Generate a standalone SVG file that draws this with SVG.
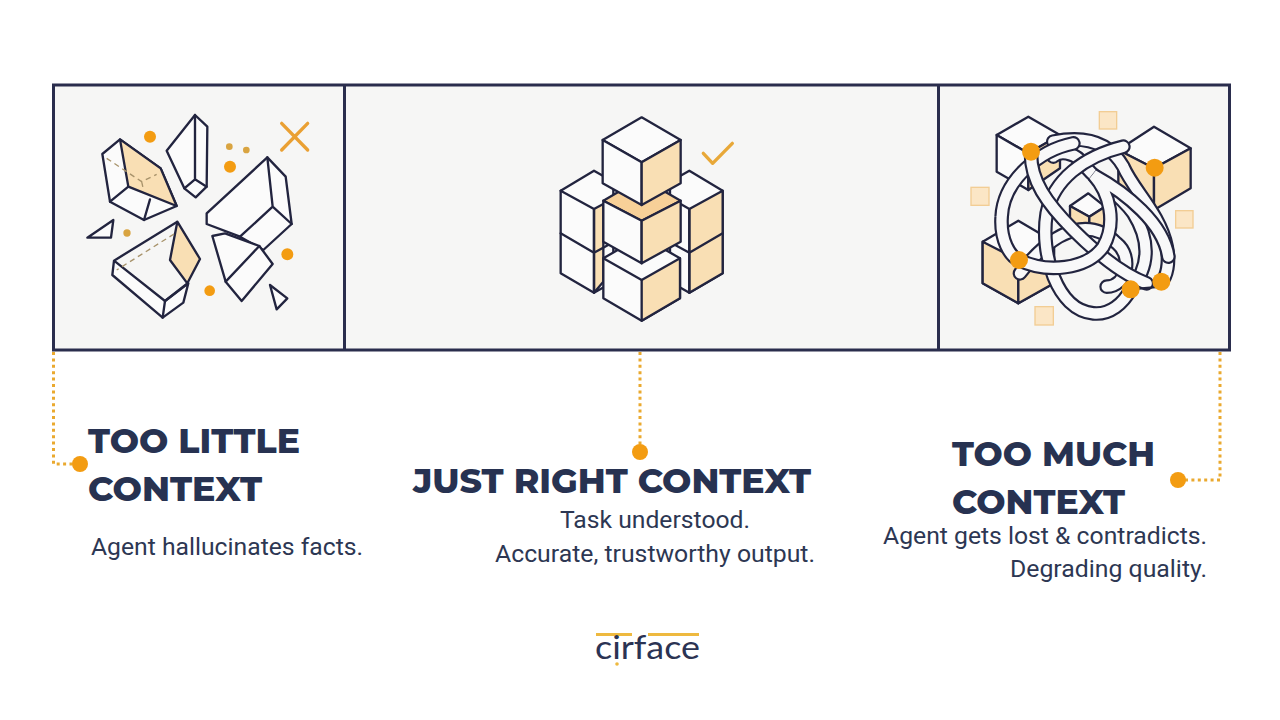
<svg xmlns="http://www.w3.org/2000/svg" width="1280" height="720" viewBox="0 0 1280 720">
<style>
.l{fill:none;stroke:#22243f;stroke-width:7;stroke-linejoin:round;stroke-linecap:round}
.w{fill:#fbfbfb;stroke:#22243f;stroke-width:7;stroke-linejoin:round}
.o{fill:#f9dfb4;stroke:#22243f;stroke-width:7;stroke-linejoin:round}
.d{fill:#f39c12}
.dm{fill:#d9a441}
.s{fill:#fbe6c6;stroke:#f2cd94;stroke-width:4}
.dash{fill:none;stroke:#a8936b;stroke-width:4;stroke-dasharray:16 12}
.rb{fill:none;stroke:#22243f;stroke-width:44;stroke-linecap:round}
.rw{fill:none;stroke:#f8f8f9;stroke-width:31;stroke-linecap:round}
.conn{fill:none;stroke:#eaa92f;stroke-width:3;stroke-dasharray:3 3.4}
.t{font-family:"Montserrat","Inter","Liberation Sans",sans-serif;font-weight:800;font-size:34px;fill:#273251}
.b{font-family:Roboto,"Liberation Sans",sans-serif;font-size:24px;fill:#2d3753}
</style>
<rect width="1280" height="720" fill="#ffffff"/>
<g id="frame">
<rect x="53.500" y="85" width="1176" height="265" fill="#f6f6f5" stroke="#2a2d4d" stroke-width="3"/>
<path d="M344.500 85V350M938.500 85V350" fill="none" stroke="#2a2d4d" stroke-width="3"/>
</g>
<g id="panel-too-little" transform="translate(50 80) scale(.33333)">
<path class="w" d="M157 222L210 178L332 265L380 378L282 420L180 365Z"/>
<path class="o" d="M210 178L332 265L380 378L235 320Z"/>
<path class="l" d="M235 320L180 365M300 358L282 420"/>
<path class="dash" d="M170 235L275 305L320 283M275 305L280 328"/>
<path class="w" d="M435 105L472 140L470 320L437 352L403 325L350 212Z"/>
<path class="l" d="M435 105L435 298L403 325M435 298L470 320"/>
<path class="w" d="M652 232L707 290L725 432L640 510L570 470L470 432L470 400Z"/>
<path class="l" d="M652 232L668 380L570 470M668 380L725 432"/>
<path class="w" d="M487 468L525 460L628 498L668 552L575 663L527 605Z"/>
<path class="l" d="M628 498L527 605"/>
<path class="w" d="M382 425L192 542L187 585L338 713L400 668L415 610L345 663L192 542"/>
<path class="o" d="M382 425L450 537L412 610L360 540Z"/>
<path class="l" d="M345 663L338 713M345 663L412 610"/>
<path class="dash" d="M372 462L200 570"/>
<path class="w" d="M190 420L112 473L183 473Z"/>
<path class="w" d="M660 615L712 655L680 688Z"/>
<path d="M695 130L773 210M773 130L695 210" fill="none" stroke="#eaa033" stroke-width="10" stroke-linecap="round"/>
<circle class="d" cx="300" cy="170" r="18"/>
<circle class="d" cx="540" cy="260" r="18"/>
<circle class="dm" cx="538" cy="200" r="10"/>
<circle class="dm" cx="589" cy="210" r="10"/>
<circle class="dm" cx="231" cy="459" r="11"/>
<circle class="d" cx="712" cy="523" r="18"/>
<circle class="d" cx="479" cy="632" r="16"/>
</g>
<g id="panel-just-right" transform="translate(530 100) scale(.33333)">
<path class="w" d="M192 212L92 272L92 520L192 578L250 545L250 245Z"/>
<path class="o" d="M192 327L220 312L220 545L192 578Z"/>
<path class="l" d="M92 272L192 327L192 578M92 400L192 458L240 432"/>
<path class="w" d="M478 212L578 272L578 520L478 578L420 545L420 245Z"/>
<path class="o" d="M478 327L578 272L578 520L478 578Z"/>
<path class="l" d="M452 312L478 327L478 578M578 400L478 458L430 432"/>
<path class="w" d="M220 475L335 408L450 475L450 595L335 662L220 595Z"/>
<path class="o" d="M335 540L450 475L450 595L335 662Z"/>
<path class="l" d="M220 475L335 540"/>
<path class="o" d="M220 302L335 235L452 302L335 362Z" style="fill:#f7d098"/>
<path class="w" d="M220 302L335 362L335 490L220 425Z"/>
<path class="o" d="M452 302L335 362L335 490L452 425Z"/>
<path class="w" d="M218 120L335 52L452 120L335 187Z"/>
<path class="w" d="M218 120L335 187L335 315L218 250Z"/>
<path class="o" d="M452 120L335 187L335 315L452 250Z"/>
<path d="M520 160L548 190L607 130" fill="none" stroke="#e8a838" stroke-width="10" stroke-linecap="round" stroke-linejoin="round"/>
</g>
<g id="panel-too-much" transform="translate(960 100) scale(.33333)">
<rect class="s" x="418" y="35" width="52" height="52"/>
<rect class="s" x="33" y="262" width="54" height="54"/>
<rect class="s" x="647" y="332" width="52" height="52"/>
<rect class="s" x="225" y="620" width="55" height="55"/>
<path class="w" d="M68 425L175 362L282 425L282 550L175 610L68 550Z"/>
<path class="o" d="M68 425L175 480L175 610L68 550Z"/>
<path class="o" d="M175 480L282 425L282 550L175 610Z"/>
<path class="w" d="M110 105L205 50L300 105L205 160Z"/>
<path class="w" d="M110 105L205 160L205 270L110 215Z"/>
<path class="o" d="M300 105L205 160L205 270L300 205Z"/>
<path class="w" d="M475 150L582 80L692 145L582 205Z"/>
<path class="o" d="M475 150L582 205L582 330L475 270Z"/>
<path class="o" d="M692 145L582 205L582 330L692 265Z"/>
<path class="w" d="M330 318L385 280L435 320L388 350Z"/>
<path class="o" d="M330 318L388 350L388 412L330 385Z"/>
<path class="o" d="M435 320L388 350L388 412L435 385Z"/>
<g id="knot">
<path class="rb" d="M440 560C500 560 520 470 470 430C420 380 320 340 180 520"/>
<path class="rw" d="M440 560C500 560 520 470 470 430C420 380 320 340 180 520"/>
<path class="rb" d="M280 125C380 105 450 130 490 200C520 270 600 340 620 440C630 490 620 530 604 545"/>
<path class="rw" d="M280 125C380 105 450 130 490 200C520 270 600 340 620 440C630 490 620 530 604 545"/>
<path class="rb" d="M512 568C570 500 570 420 520 340C470 270 410 250 360 180C340 160 300 150 280 170"/>
<path class="rw" d="M512 568C570 500 570 420 520 340C470 270 410 250 360 180C340 160 300 150 280 170"/>
<path class="rb" d="M340 130C240 150 130 240 125 350C120 420 150 470 177 480"/>
<path class="rw" d="M340 130C240 150 130 240 125 350C120 420 150 470 177 480"/>
<path class="rb" d="M490 140C370 170 280 240 260 340C240 460 290 630 400 640C450 645 490 610 512 568"/>
<path class="rw" d="M490 140C370 170 280 240 260 340C240 460 290 630 400 640C450 645 490 610 512 568"/>
<path class="rb" d="M213 155C210 240 260 310 340 390C400 450 480 520 560 550"/>
<path class="rw" d="M213 155C210 240 260 310 340 390C400 450 480 520 560 550"/>
<path class="rb" d="M177 480C260 520 380 510 430 440C470 370 450 280 400 225C500 280 610 370 625 470"/>
<path class="rw" d="M177 480C260 520 380 510 430 440C470 370 450 280 400 225C500 280 610 370 625 470"/>
<path class="l" d="M512 568L604 560"/>
</g>
<circle class="d" cx="213" cy="155" r="27"/>
<circle class="d" cx="584" cy="203" r="27"/>
<circle class="d" cx="177" cy="480" r="27"/>
<circle class="d" cx="512" cy="568" r="27"/>
<circle class="d" cx="604" cy="545" r="27"/>
</g>
<g id="connectors">
<path class="conn" d="M53.500 352V464H78"/>
<path class="conn" d="M640 352V450"/>
<path class="conn" d="M1220 352V480H1180"/>
<circle class="d" cx="80" cy="464" r="8"/>
<circle class="d" cx="640" cy="452" r="8"/>
<circle class="d" cx="1178" cy="480" r="8"/>
</g>
<g id="label-too-little">
<text class="t" x="88" y="453" textLength="212" lengthAdjust="spacingAndGlyphs">TOO LITTLE</text>
<text class="t" x="88" y="501" textLength="174" lengthAdjust="spacingAndGlyphs">CONTEXT</text>
<text class="b" x="91" y="555" textLength="272" lengthAdjust="spacingAndGlyphs">Agent hallucinates facts.</text>
</g>
<g id="label-just-right">
<text class="t" x="413" y="493" textLength="398" lengthAdjust="spacingAndGlyphs">JUST RIGHT CONTEXT</text>
<text class="b" x="560" y="528" textLength="190" lengthAdjust="spacingAndGlyphs">Task understood.</text>
<text class="b" x="495" y="562" textLength="320" lengthAdjust="spacingAndGlyphs">Accurate, trustworthy output.</text>
</g>
<g id="label-too-much">
<text class="t" x="952" y="466" textLength="203" lengthAdjust="spacingAndGlyphs">TOO MUCH</text>
<text class="t" x="952" y="514" textLength="173" lengthAdjust="spacingAndGlyphs">CONTEXT</text>
<text class="b" x="883" y="544" textLength="324" lengthAdjust="spacingAndGlyphs">Agent gets lost &amp; contradicts.</text>
<text class="b" x="1010" y="577" textLength="197" lengthAdjust="spacingAndGlyphs">Degrading quality.</text>
</g>
<g id="logo">
<path d="M596 634.500H632M648 634.500H699" fill="none" stroke="#eeb93f" stroke-width="3"/>
<text x="595" y="659" textLength="105" lengthAdjust="spacingAndGlyphs" font-family="Lato,'Liberation Sans',sans-serif" font-size="33" fill="#2b3353">cirface</text>
<circle cx="617" cy="664" r="1.800" fill="#eeb93f"/>
</g>
</svg>
